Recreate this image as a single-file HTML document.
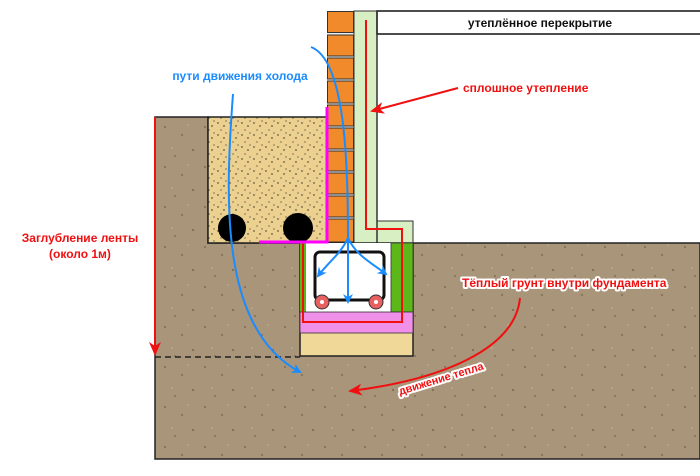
<!DOCTYPE html>
<html><head><meta charset="utf-8"><style>
html,body{margin:0;padding:0;background:#fff;}
svg{display:block;}
text{font-family:"Liberation Sans","DejaVu Sans",sans-serif;font-weight:bold;}
</style></head><body>
<svg width="700" height="476" viewBox="0 0 700 476" xmlns="http://www.w3.org/2000/svg">
<defs>
<pattern id="soil" width="40" height="40" patternUnits="userSpaceOnUse">
<rect width="40" height="40" fill="#a8957a"/>
<circle cx="5" cy="7" r="1" fill="#7d6b55"/><circle cx="22" cy="15" r="1.2" fill="#8a7760"/>
<circle cx="33" cy="30" r="1" fill="#75644f"/><circle cx="12" cy="28" r="0.8" fill="#c4b49a"/>
<circle cx="28" cy="5" r="0.8" fill="#c4b49a"/><circle cx="15" cy="36" r="1" fill="#806e58"/>
</pattern>
<pattern id="sand" width="12" height="12" patternUnits="userSpaceOnUse">
<rect width="12" height="12" fill="#ecd08f"/>
<circle cx="2" cy="3" r="0.7" fill="#222"/><circle cx="8" cy="6" r="0.7" fill="#222"/>
<circle cx="5" cy="10" r="0.6" fill="#333"/><circle cx="10" cy="1" r="0.6" fill="#333"/>
</pattern>
<marker id="ab" markerWidth="10" markerHeight="10" refX="8" refY="5" orient="auto" markerUnits="userSpaceOnUse"><path d="M0,0 L10,5 L0,10 L3,5z" fill="#1a8cff"/></marker>
<marker id="ar" markerWidth="14" markerHeight="12" refX="12" refY="6" orient="auto" markerUnits="userSpaceOnUse"><path d="M0,0 L14,6 L0,12 L4,6z" fill="#f01010"/></marker>
</defs>
<path d="M155,117 H208 V243 H700 V459 H155 Z" fill="url(#soil)" stroke="#222" stroke-width="1.5"/>
<rect x="208" y="117" width="120" height="126" fill="url(#sand)" stroke="#222" stroke-width="1.5"/>
<circle cx="232" cy="228" r="14" fill="#000"/>
<circle cx="298" cy="228" r="15" fill="#000"/>
<!-- bricks -->
<rect x="327" y="11" width="27" height="232" fill="#eee"/>
<g fill="#f08a2a" stroke="#333" stroke-width="1">
<rect x="327.5" y="11.5" width="26" height="21"/><rect x="327.5" y="35" width="26" height="21"/>
<rect x="327.5" y="58" width="26" height="21"/><rect x="327.5" y="81" width="26" height="22"/>
<rect x="327.5" y="105" width="26" height="21"/><rect x="327.5" y="128" width="26" height="21"/>
<rect x="327.5" y="151" width="26" height="20"/><rect x="327.5" y="173" width="26" height="21"/>
<rect x="327.5" y="196" width="26" height="21"/><rect x="327.5" y="219" width="26" height="23"/>
</g>
<path d="M354,11 H377 V221 H413 V243 H354 Z" fill="#d8efc4" stroke="#333" stroke-width="1"/>
<rect x="377" y="11" width="330" height="23" fill="#fff" stroke="#111" stroke-width="1.5"/>
<line x1="377" y1="11" x2="377" y2="243" stroke="#333" stroke-width="1.5"/>
<text x="540" y="27" font-size="12" text-anchor="middle" fill="#111">утеплённое перекрытие</text>
<rect x="300" y="243" width="113" height="113" fill="#f0d898" stroke="#222" stroke-width="1.5"/>
<rect x="300" y="243" width="6" height="69" fill="#5cb818"/>
<rect x="306" y="243" width="85" height="69" fill="#fff"/>
<rect x="391" y="243" width="22" height="69" fill="#5cb818" stroke="#333" stroke-width="0.8"/>
<rect x="300" y="312" width="113" height="21" fill="#f090e8" stroke="#333" stroke-width="0.8"/>
<rect x="315" y="252" width="69" height="48" rx="5" fill="#fff" stroke="#111" stroke-width="3"/>
<circle cx="322" cy="302" r="7" fill="#e86060" stroke="#333" stroke-width="1"/><circle cx="322" cy="302" r="2" fill="#fff"/>
<circle cx="376" cy="302" r="7" fill="#e86060" stroke="#333" stroke-width="1"/><circle cx="376" cy="302" r="2" fill="#fff"/>
<path d="M366,20 V229 H402 V322 H303 V243" fill="none" stroke="#f01010" stroke-width="2"/>
<path d="M327,107 V242 H259" fill="none" stroke="#ff00ff" stroke-width="3"/>
<line x1="155" y1="357" x2="300" y2="357" stroke="#222" stroke-width="1.5" stroke-dasharray="6,4"/>
<line x1="155" y1="117" x2="155" y2="354" stroke="#f01010" stroke-width="2" marker-end="url(#ar)"/>
<text x="80" y="242" font-size="12" text-anchor="middle" fill="#f01010">Заглубление ленты</text>
<text x="80" y="258" font-size="12" text-anchor="middle" fill="#f01010">(около 1м)</text>
<text x="240" y="80" font-size="12" text-anchor="middle" fill="#1a8cff">пути движения холода</text>
<path d="M233,94 C225,200 220,330 300,372" fill="none" stroke="#1a8cff" stroke-width="2" marker-end="url(#ab)"/>
<path d="M311,47 C345,60 348,160 348,238" fill="none" stroke="#1a8cff" stroke-width="2"/>
<path d="M348,238 C340,255 330,260 318,276" fill="none" stroke="#1a8cff" stroke-width="2" marker-end="url(#ab)"/>
<path d="M348,238 V302" fill="none" stroke="#1a8cff" stroke-width="2" marker-end="url(#ab)"/>
<path d="M348,238 C356,255 370,262 386,274" fill="none" stroke="#1a8cff" stroke-width="2" marker-end="url(#ab)"/>
<line x1="458" y1="88" x2="372" y2="111" stroke="#f01010" stroke-width="2" marker-end="url(#ar)"/>
<text x="463" y="92" font-size="12" fill="#f01010">сплошное утепление</text>
<text x="462" y="287" font-size="12" fill="#f01010" stroke="#fff" stroke-width="4" stroke-linejoin="round" paint-order="stroke">Тёплый грунт внутри фундамента</text>
<path d="M520,298 C515,350 440,380 350,391" fill="none" stroke="#f01010" stroke-width="2" marker-end="url(#ar)"/>
<text x="400" y="395" font-size="11" fill="#f01010" stroke="#fff" stroke-width="4" stroke-linejoin="round" paint-order="stroke" transform="rotate(-17 400 395)">движение тепла</text>
</svg>
</body></html>
